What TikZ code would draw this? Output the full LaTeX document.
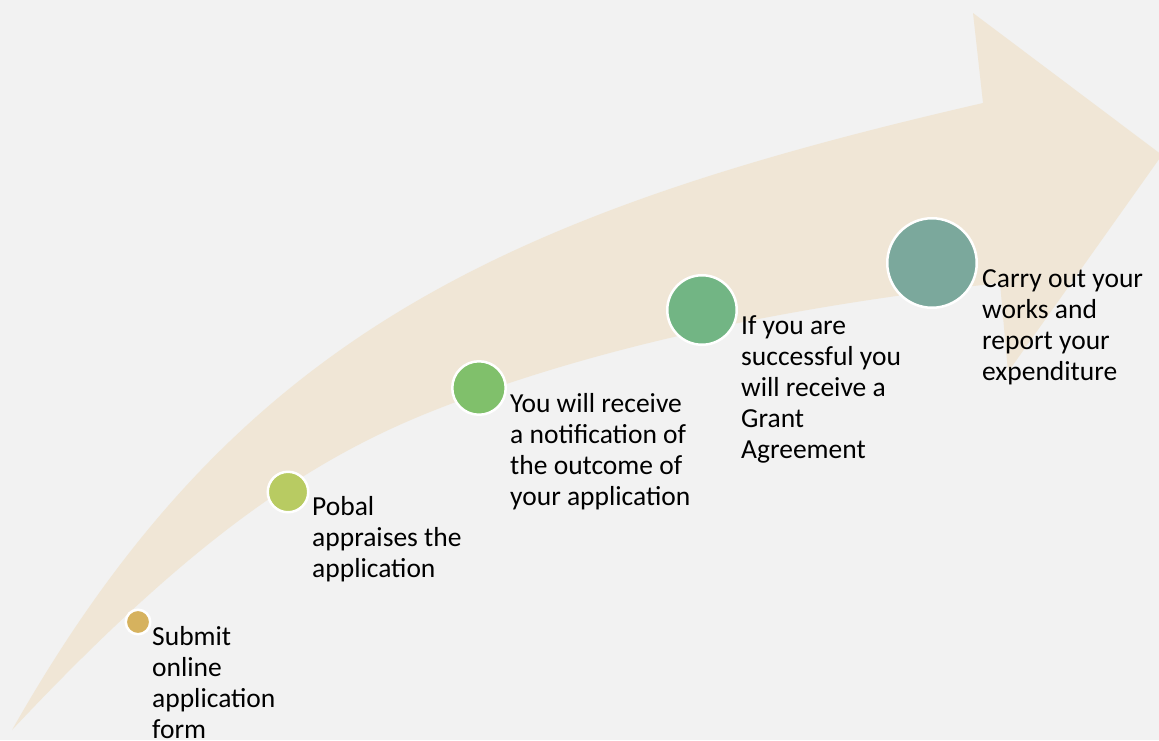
\documentclass[tikz,border=0pt]{standalone}
\usepackage{fontspec}
\setmainfont{Carlito}
\definecolor{bgc}{HTML}{F2F2F2}
\definecolor{arrowc}{HTML}{F0E6D6}
\definecolor{ca}{HTML}{D6B25E}
\definecolor{cb}{HTML}{B8CB62}
\definecolor{cc}{HTML}{80C06B}
\definecolor{cd}{HTML}{72B584}
\definecolor{ce}{HTML}{7BA89C}
\tikzset{
  dot/.style={circle, draw=white, line width=2.5pt, inner sep=0pt},
  lbl/.style={anchor=base west, align=left, inner sep=0pt, text=black,
    font=\fontsize{27.5pt}{31pt}\selectfont}
}
\begin{document}
\begin{tikzpicture}[x=1pt,y=-1pt]
\useasboundingbox (0,0) rectangle (1159,740);
\fill[bgc] (0,0) rectangle (1159,740);
\fill[arrowc] (12,730) .. controls (233,340) and (496,215) .. (983,103)
  -- (973,13) -- (1162,155) -- (1008,372) -- (1000,283)
  .. controls (800,305) and (600,344) .. (430,412)
  .. controls (300,464) and (181,550) .. (12,730) -- cycle;
\node[dot, fill=ca, minimum size=24.5pt] (c1) at (138,622) {};
\node[dot, fill=cb, minimum size=40.5pt] (c2) at (288,492) {};
\node[dot, fill=cc, minimum size=53.5pt] (c3) at (479,388) {};
\node[dot, fill=cd, minimum size=69.5pt] (c4) at (702,310) {};
\node[dot, fill=ce, minimum size=89.5pt] (c5) at (932,263) {};
\node[lbl] (t1) at (152,738) {Submit\\online\\application\\form};
\node[lbl] (t2) at (312,577) {Pobal\\appraises the\\application};
\node[lbl] (t3) at (510,505) {You will receive\\a notification of\\the outcome of\\your application};
\node[lbl] (t4) at (741,458) {If you are\\successful you\\will receive a\\Grant\\Agreement};
\node[lbl] (t5) at (982,380) {Carry out your\\works and\\report your\\expenditure};
\end{tikzpicture}
\end{document}
